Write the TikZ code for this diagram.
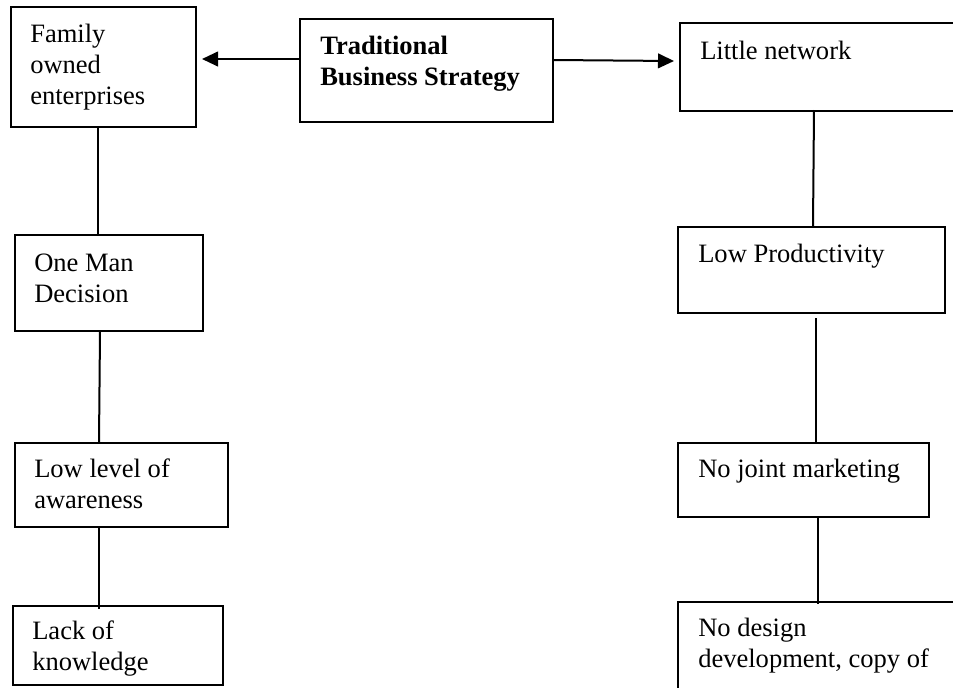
\documentclass[tikz,border=0pt]{standalone}
\usepackage{fontspec}
\setmainfont{Liberation Serif}
\usetikzlibrary{calc,arrows.meta}

% one unit = one pixel of the 953 x 687 canvas, y grows downwards
\tikzset{
  x=0.75pt, y=-0.75pt,
  boxframe/.style={draw, line width=1.5pt, rectangle, inner sep=0pt},
  boxtext/.style={anchor=base west, inner sep=0pt,
    font=\fontsize{19.9}{23.3}\selectfont},
  link/.style={line width=1.5pt},
  pointer/.style={line width=1.5pt, -{Triangle[length=12pt,width=11pt]}}
}
\newcommand{\boxlines}[1]{\parbox[t]{12cm}{\raggedright #1}}

\begin{document}
\begin{tikzpicture}
\useasboundingbox (0,0) rectangle (953,687);
\clip (0,0) rectangle (953,687);

% frames, given by centre, width and height
\node[boxframe, minimum width=185pt*0.75, minimum height=120pt*0.75] (fam)   at (103.5,67)  {};
\node[boxframe, minimum width=253pt*0.75, minimum height=103pt*0.75] (trad)  at (426.5,70.5) {};
\node[boxframe, minimum width=310pt*0.75, minimum height=88pt*0.75]  (net)   at (835,67)    {};
\node[boxframe, minimum width=267pt*0.75, minimum height=86pt*0.75]  (prod)  at (811.5,270) {};
\node[boxframe, minimum width=188pt*0.75, minimum height=96pt*0.75]  (man)   at (109,283)   {};
\node[boxframe, minimum width=213pt*0.75, minimum height=84pt*0.75]  (aware) at (121.5,485) {};
\node[boxframe, minimum width=210pt*0.75, minimum height=79pt*0.75]  (lack)  at (118,645.5) {};
\node[boxframe, minimum width=251pt*0.75, minimum height=74pt*0.75]  (joint) at (803.5,480) {};
\node[boxframe, minimum width=312pt*0.75, minimum height=118pt*0.75] (design) at (834,661)  {};

% texts, first baseline 36 px below the top edge, 20 px in from the left edge
\node[boxtext] (famT)   at ($(fam.north west)+(20,36)$)    {\boxlines{Family\\owned\\enterprises}};
\node[boxtext] (tradT)  at ($(trad.north west)+(21,36)$)   {\boxlines{\bfseries Traditional\\Business Strategy}};
\node[boxtext] (netT)   at ($(net.north west)+(21,37)$)    {Little network};
\node[boxtext] (prodT)  at ($(prod.north west)+(21,36)$)   {Low Productivity};
\node[boxtext] (manT)   at ($(man.north west)+(20,37)$)    {\boxlines{One Man\\Decision}};
\node[boxtext] (awareT) at ($(aware.north west)+(20,35)$)  {\boxlines{Low level of\\awareness}};
\node[boxtext] (lackT)  at ($(lack.north west)+(20,34)$)   {\boxlines{Lack of\\knowledge}};
\node[boxtext] (jointT) at ($(joint.north west)+(21,35)$)  {No joint marketing};
\node[boxtext] (designT) at ($(design.north west)+(21,35)$) {\boxlines{No design\\development, copy of}};

% arrows out of the central box
\draw[pointer] ($(trad.north west)+(0,41)$) -- ($(fam.north east)+(5,53)$);
\draw[pointer] ($(trad.north east)+(0,42)$) -- ($(net.north west)+(-5,39)$);

% left chain
\draw[link] ($(fam.south west)+(88,0)$)   -- ($(man.north west)+(84,0)$);
\draw[link] ($(man.south west)+(86,0)$)   -- ($(aware.north west)+(85,0)$);
\draw[link] ($(aware.south west)+(85,0)$) -- ($(lack.north west)+(87,4)$);

% right chain
\draw[link] ($(net.north west)+(135,88)$) -- ($(prod.north west)+(136,0)$);
\draw[link] ($(prod.south west)+(139,4)$) -- ($(joint.north west)+(139,0)$);
\draw[link] ($(joint.south west)+(141,0)$) -- ($(design.north west)+(141,3)$);
\end{tikzpicture}
\end{document}
